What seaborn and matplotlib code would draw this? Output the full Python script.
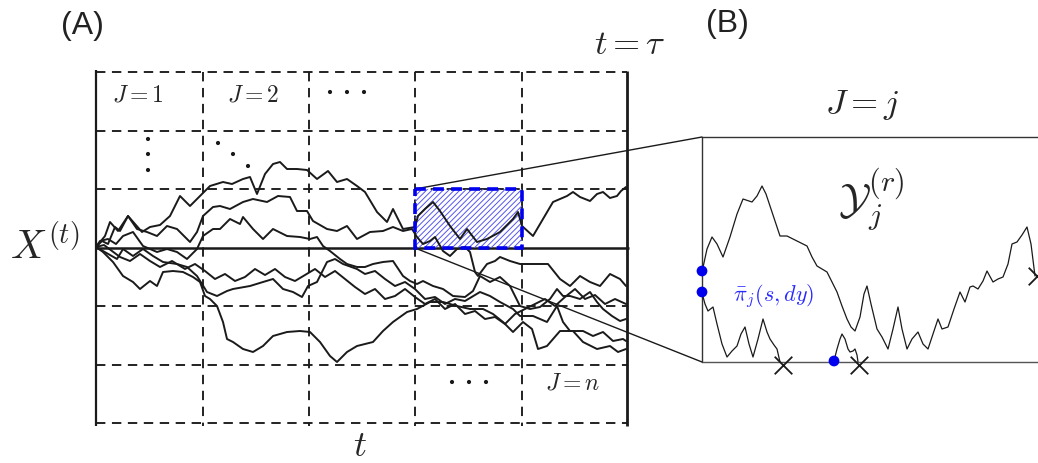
import numpy as np
import pandas as pd
import matplotlib
matplotlib.use("Agg")
import matplotlib.pyplot as plt
from matplotlib.patches import Rectangle
import seaborn as sns

# panel A grid (pixel coordinates of the schematic)
col_edges = [96, 203, 309, 415, 522, 627]
row_edges = [73, 132, 190, 249, 307, 366, 424]
mid_row = 249

# zoomed block J = j (column 4, row 3)
box_x0, box_x1 = 415, 522
box_y0, box_y1 = 190, 249
panel_b = dict(x0=702, x1=1038, y0=138, y1=363)

# sample paths X^(t)
p1_x = [96, 102, 108, 115, 120, 128, 135, 142, 150, 160, 170, 180, 190, 200, 210, 223, 232, 243, 250, 257, 265, 273, 280, 287, 297, 307, 317, 328, 337, 347, 357, 365, 377, 387, 393, 403, 415, 418, 425, 433, 440, 450, 460, 467, 477, 487, 500, 513, 518, 522, 533, 543, 553, 567, 573, 580, 590, 597, 603, 610, 617, 621, 626]
p1_y = [248, 242, 245, 228, 232, 217, 225, 233, 228, 226, 217, 197, 207, 197, 187, 183, 185, 180, 178, 195, 175, 165, 163, 170, 170, 171, 180, 172, 183, 180, 187, 193, 213, 223, 210, 230, 228, 217, 210, 203, 212, 227, 240, 230, 243, 240, 233, 220, 213, 227, 237, 220, 203, 197, 193, 198, 202, 195, 193, 199, 197, 192, 188]

p2_x = [96, 105, 110, 118, 128, 137, 147, 157, 167, 177, 190, 197, 203, 213, 220, 230, 243, 253, 267, 278, 290, 297, 307, 313, 327, 337, 347, 357, 370, 383, 393, 403, 412, 417, 423, 430, 435, 443, 450, 457, 465, 470, 475, 478, 487, 495, 500, 510, 520, 533, 548, 560, 570, 580, 590, 600, 610, 620, 626]
p2_y = [248, 237, 223, 232, 217, 230, 233, 237, 227, 230, 243, 233, 217, 208, 207, 210, 203, 200, 203, 197, 198, 212, 212, 222, 230, 232, 227, 240, 233, 232, 228, 232, 230, 238, 245, 242, 238, 252, 257, 250, 248, 253, 273, 277, 265, 262, 258, 262, 265, 265, 265, 280, 287, 277, 283, 287, 275, 280, 287]

p3_x = [96, 100, 108, 116, 123, 133, 143, 150, 157, 167, 177, 187, 197, 203, 213, 220, 230, 240, 243, 253, 263, 273, 287, 300, 310, 317, 323, 330, 340, 347, 357, 365, 373, 383, 393, 403, 410, 417, 423, 433, 443, 453, 465, 473, 480, 490, 500, 510, 520, 530, 540, 550, 557, 563, 570, 580, 590, 597, 603, 612, 620, 626]
p3_y = [248, 242, 240, 245, 237, 233, 247, 250, 253, 250, 253, 260, 250, 237, 230, 230, 220, 225, 218, 230, 240, 230, 237, 238, 240, 238, 247, 252, 260, 265, 268, 268, 265, 263, 262, 277, 282, 285, 282, 287, 290, 297, 298, 292, 277, 283, 278, 287, 307, 310, 308, 300, 290, 297, 297, 300, 293, 303, 310, 317, 322, 320]

p4_x = [96, 103, 110, 117, 123, 133, 143, 153, 163, 177, 187, 197, 207, 217, 227, 233, 250, 263, 273, 283, 293, 302, 308, 317, 327, 335, 343, 357, 365, 375, 385, 395, 405, 415, 425, 435, 445, 455, 465, 480, 490, 500, 513, 520, 533, 547, 557, 563, 570, 583, 593, 603, 613, 623, 626]
p4_y = [248, 252, 256, 260, 250, 257, 250, 257, 263, 265, 268, 277, 293, 297, 292, 290, 287, 283, 280, 290, 293, 298, 287, 283, 263, 260, 265, 270, 275, 272, 280, 287, 283, 290, 300, 298, 305, 300, 302, 293, 297, 303, 310, 317, 317, 323, 307, 323, 332, 332, 337, 333, 342, 340, 342]

p5_x = [96, 103, 113, 123, 133, 140, 150, 157, 163, 173, 183, 193, 200, 205, 210, 217, 223, 227, 233, 243, 253, 263, 273, 287, 300, 310, 320, 330, 337, 347, 357, 365, 373, 383, 393, 407, 417, 430, 443, 457, 470, 483, 493, 503, 513, 523, 532, 538, 547, 560, 573, 583, 597, 610, 618, 626]
p5_y = [248, 253, 263, 277, 283, 290, 282, 287, 273, 272, 273, 278, 283, 297, 300, 307, 323, 340, 343, 350, 353, 347, 337, 333, 332, 333, 343, 357, 363, 353, 347, 345, 343, 332, 323, 313, 310, 303, 303, 307, 310, 310, 315, 323, 333, 323, 330, 350, 347, 332, 332, 343, 350, 347, 353, 350]

p6_x = [96, 104, 112, 120, 130, 140, 150, 160, 172, 185, 195, 205, 215, 225, 235, 245, 255, 265, 275, 285, 295, 305, 315, 325, 335, 345, 355, 365, 375, 385, 395, 405, 415, 425, 435, 445, 455, 465, 475, 485, 495, 505, 515, 525, 535, 545, 555, 565, 575, 585, 595, 605, 615, 626]
p6_y = [248, 246, 252, 258, 262, 255, 262, 268, 262, 270, 265, 272, 280, 275, 282, 278, 270, 276, 270, 278, 282, 276, 270, 278, 272, 280, 288, 295, 290, 300, 297, 290, 298, 305, 300, 310, 305, 315, 312, 320, 318, 325, 315, 310, 305, 300, 307, 298, 290, 300, 296, 305, 300, 305]

# panel B: excursions inside the block
yu_x = [702, 707, 712, 717, 723, 730, 737, 743, 752, 757, 762, 766, 770, 775, 780, 787, 797, 807, 812, 817, 822, 827, 832, 837, 842, 847, 851, 855, 860, 864, 867, 871, 877, 882, 888, 893, 898, 902, 907, 912, 918, 923, 928, 933, 938, 942, 948, 954, 960, 965, 970, 973, 978, 983, 987, 993, 998, 1003, 1008, 1012, 1017, 1022, 1027, 1031, 1035]
yu_y = [273, 250, 238, 245, 258, 238, 215, 200, 203, 197, 187, 195, 207, 222, 237, 237, 242, 247, 258, 267, 270, 273, 283, 293, 307, 320, 328, 332, 318, 295, 287, 305, 330, 338, 350, 330, 308, 330, 350, 340, 333, 345, 350, 335, 320, 330, 328, 310, 293, 303, 288, 287, 290, 282, 272, 283, 280, 278, 265, 245, 243, 236, 228, 245, 277]

yl_x = [702, 705, 708, 713, 717, 722, 727, 732, 737, 741, 745, 749, 753, 758, 763, 767, 770, 774, 777, 780]
yl_y = [294, 305, 312, 308, 325, 345, 358, 352, 347, 335, 328, 345, 358, 340, 320, 333, 340, 346, 350, 363]

yr_x = [834, 837, 840, 842, 845, 848, 850, 853, 855, 857, 858]
yr_y = [362, 350, 340, 335, 340, 350, 353, 352, 350, 356, 363]

# marks
entry_x = [702, 702, 834]
entry_y = [272, 293, 362]
kill_x = [783, 859, 1037]
kill_y = [366, 366, 277]
vdots_x = [148, 148, 148]
vdots_y = [140, 155, 171]
ddots_x = [218, 233, 248]
ddots_y = [144, 155, 167]
hdots_top_x = [330, 347, 364]
hdots_top_y = [93, 93, 93]
hdots_bot_x = [452, 469, 486]
hdots_bot_y = [383, 383, 383]

sns.set_theme(style="white")
plt.rcParams["mathtext.fontset"] = "cm"
plt.rcParams["hatch.linewidth"] = 0.7
plt.rcParams["font.family"] = ["Liberation Sans", "DejaVu Sans"]

fig = plt.figure(figsize=(10.38, 4.64), dpi=100)
ax = fig.add_axes([0, 0, 1, 1])
ax.set_xlim(0, 1038)
ax.set_ylim(464, 0)
ax.axis("off")

dash = (0, (5, 3.5))
# dashed grid of panel A
ax.hlines([r for r in row_edges if r != mid_row], col_edges[0], col_edges[-1],
          colors="k", lw=1.35, linestyles=[dash])
ax.vlines(col_edges[1:-1], row_edges[0], row_edges[-1] + 3, colors="k", lw=1.35, linestyles=[dash])
ax.vlines(col_edges[0], row_edges[0] - 2, row_edges[-1] + 3, colors="k", lw=1.6)
ax.vlines(col_edges[-1], row_edges[0] - 1, row_edges[-1] + 3, colors="k", lw=2.0)
ax.hlines(mid_row, col_edges[0], col_edges[-1] + 2, colors="k", lw=1.8)

# hatched block
ax.add_patch(Rectangle((box_x0, box_y0), box_x1 - box_x0, box_y1 - box_y0,
                       facecolor="none", edgecolor="#5555ee", hatch="//////", lw=0, zorder=2))
ax.add_patch(Rectangle((box_x0, box_y0), box_x1 - box_x0, box_y1 - box_y0,
                       facecolor="none", edgecolor="#0000ee", lw=2.6,
                       linestyle=(0, (3, 2)), zorder=4))

# paths
paths = [(p1_x, p1_y), (p2_x, p2_y), (p3_x, p3_y), (p4_x, p4_y), (p5_x, p5_y), (p6_x, p6_y)]
df = pd.concat([pd.DataFrame({"x": px, "y": py, "path": i}) for i, (px, py) in enumerate(paths)])
sns.lineplot(data=df, x="x", y="y", units="path", estimator=None, sort=False,
             color="k", lw=1.4, ax=ax, zorder=3)

# panel B frame and connectors
b = panel_b
ax.plot([b["x0"], b["x0"]], [b["y0"], b["y1"]], color="#333333", lw=1.0)
ax.plot([b["x0"], b["x1"]], [b["y0"], b["y0"]], color="#333333", lw=1.0)
ax.plot([b["x0"], b["x1"]], [b["y1"], b["y1"]], color="#555555", lw=1.0)
ax.plot([box_x0, b["x0"]], [box_y0, b["y0"]], color="k", lw=1.0)
ax.plot([box_x0, b["x0"]], [box_y1, b["y1"]], color="k", lw=1.0)

for cx, cy in [(yu_x, yu_y), (yl_x, yl_y), (yr_x, yr_y)]:
    sns.lineplot(x=cx, y=cy, sort=False, estimator=None, color="k", lw=0.9, ax=ax)

sns.scatterplot(x=entry_x, y=entry_y, color="#0000ee", s=60, edgecolor="none", ax=ax, zorder=5)
sns.scatterplot(x=kill_x, y=kill_y, color="k", marker="x", s=160, linewidth=1.3, ax=ax, zorder=5)
for dx, dy in [(vdots_x, vdots_y), (ddots_x, ddots_y), (hdots_top_x, hdots_top_y), (hdots_bot_x, hdots_bot_y)]:
    sns.scatterplot(x=dx, y=dy, color="k", s=9, edgecolor="none", ax=ax)

# labels
ax.text(82, 26, "(A)", fontsize=23, ha="center", va="center", color="#222222")
ax.text(727, 24, "(B)", fontsize=23, ha="center", va="center", color="#222222")
ax.text(630, 44, r"$t=\tau$", fontsize=25, ha="center", va="center")
ax.text(862, 105, r"$J=j$", fontsize=25, ha="center", va="center")
ax.text(45, 246, r"$X^{(t)}$", fontsize=29, ha="center", va="center")
ax.text(360, 447, r"$t$", fontsize=26, ha="center", va="center")
ax.text(138, 96, r"$J=1$", fontsize=17, ha="center", va="center")
ax.text(253, 96, r"$J=2$", fontsize=17, ha="center", va="center")
ax.text(573, 384, r"$J=n$", fontsize=17, ha="center", va="center")
ax.text(871, 200, r"$\mathcal{Y}_j^{(r)}$", fontsize=31, ha="center", va="center")
ax.text(774, 296, r"$\bar{\pi}_j(s,dy)$", fontsize=16, ha="center", va="center", color="#2a2aff")

fig.savefig("out.png", dpi=100)
